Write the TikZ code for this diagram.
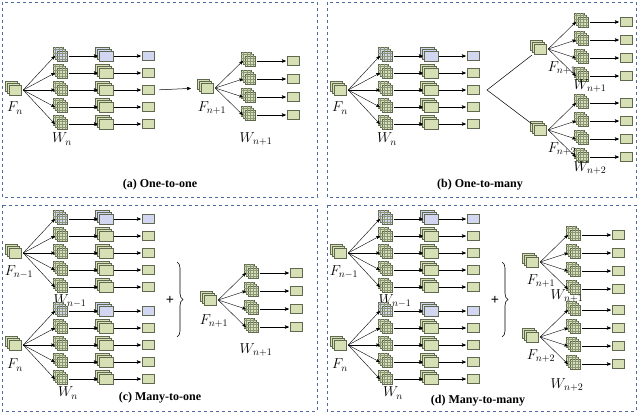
\documentclass[tikz,border=0pt]{standalone}
\usepackage{fontspec}
\setmainfont{Liberation Serif}
\usetikzlibrary{arrows,positioning,calc,decorations.pathreplacing}
\definecolor{greenf}{RGB}{214,224,180}
\definecolor{bluef}{RGB}{210,214,240}
\definecolor{edgec}{RGB}{95,105,80}
\definecolor{gridc}{RGB}{140,150,120}
\definecolor{framec}{RGB}{80,105,160}
\tikzset{
    elem/.style={inner sep=0pt, minimum width=14pt, minimum height=12pt},
    fnode/.style={elem, minimum width=16pt},
    flow/.style={->, line width=0.5pt},
    fan/.style={->, line width=0.4pt},
    frame/.style={draw=framec, dashed, line width=0.9pt},
    lbl/.style={font=\Large, inner sep=0pt},
    pics/fmap/.style={code={
        \foreach \d in {4,2,0}
            \filldraw[fill=#1, draw=edgec, line width=0.4pt] (-6-\d,-5-\d) rectangle (6-\d,5-\d);
    }},
    pics/kern/.style={code={
        \foreach \d in {4,2,0} {
            \filldraw[fill=#1, draw=edgec, line width=0.3pt] (-5-\d,-5-\d) rectangle (5-\d,5-\d);
            \draw[gridc, line width=0.2pt] (-5-\d,-5-\d) grid[step=3.33pt] (5-\d,5-\d);
        }
    }},
    pics/cube/.style={code={
        \foreach \d in {4,2,0}
            \filldraw[fill=#1, draw=edgec, line width=0.4pt] (-7-\d,-5-\d) rectangle (7-\d,5-\d);
    }},
    pics/obox/.style={code={
        \filldraw[fill=#1, draw=edgec, line width=0.4pt] (-6,-4.5) rectangle (6,4.5);
    }},
}
% left group: feature map, five kernels, five cubes, five outputs
\newcommand\lgrp[3]{%
    \node[fnode] (#1f) at (#2,#3) {};
    \pic at (#1f) {fmap=greenf};
    \foreach \r/\dy/\c in {1/-34/bluef,2/-17/greenf,3/0/greenf,4/17/greenf,5/34/greenf} {
        \node[elem] (#1k\r) at (#2+47,#3+\dy) {};
        \node[elem, minimum width=16pt] (#1c\r) at (#2+91,#3+\dy) {};
        \node[elem] (#1b\r) at (#2+133,#3+\dy) {};
        \pic at (#1k\r) {kern=\c};
        \pic at (#1c\r) {cube=\c};
        \pic at (#1b\r) {obox=\c};
        \draw[fan] (#1f.east) -- (#1k\r.west);
        \draw[flow] (#1k\r.east) -- (#1c\r.west);
        \draw[flow] (#1c\r.east) -- (#1b\r.west);
    }%
}
% right group: feature map, four kernels, four outputs
\newcommand\rgrp[3]{%
    \node[fnode] (#1f) at (#2,#3) {};
    \pic at (#1f) {fmap=greenf};
    \foreach \r/\dy in {1/-27,2/-9,3/9,4/27} {
        \node[elem] (#1k\r) at (#2+43,#3+\dy) {};
        \node[elem] (#1b\r) at (#2+86,#3+\dy) {};
        \pic at (#1k\r) {kern=greenf};
        \pic at (#1b\r) {obox=greenf};
        \draw[fan] (#1f.east) -- (#1k\r.west);
        \draw[flow] (#1k\r.east) -- (#1b\r.west);
    }%
}
\begin{document}
\begin{tikzpicture}[x=1pt, y=-1pt, >=stealth']
    \useasboundingbox (0,0) rectangle (640,413);
    % frames
    \draw[frame] (2,2) rectangle (317,197);
    \draw[frame] (327,2) rectangle (636,197);
    \draw[frame] (2,205) rectangle (317,411);
    \draw[frame] (327,205) rectangle (636,411);

    % (a)
    \lgrp{a}{15}{90}
    \node[lbl] at (15,108) {$F_n$};
    \node[lbl] at (62,139) {$W_n$};
    \rgrp{an}{207}{88}
    \draw[flow, shorten <=4pt, shorten >=8pt] (ab3.east) -- (anf.west);
    \node[lbl] at (212,108) {$F_{n+1}$};
    \node[lbl] at (256,139) {$W_{n+1}$};
    \node[lbl, font=\large] at (160,185) {\textbf{(a) One-to-one}};

    % (b)
    \lgrp{b}{340}{90}
    \node[lbl] at (340,108) {$F_n$};
    \node[lbl] at (387,139) {$W_n$};
    \coordinate (bsplit) at (487,90);
    \rgrp{bn}{540}{49}
    \rgrp{bm}{540}{130}
    \draw[line width=0.5pt] (bnf.south west) -- (bsplit) -- (bmf.north west);
    \node[lbl] at (562,68) {$F_{n+1}$};
    \node[lbl] at (590,86) {$W_{n+1}$};
    \node[lbl] at (562,149) {$F_{n+2}$};
    \node[lbl] at (590,168) {$W_{n+2}$};
    \node[lbl, font=\large] at (480,185) {\textbf{(b) One-to-many}};

    % (c)
    \lgrp{c}{15}{253}
    \node[lbl] at (19,272) {$F_{n-1}$};
    \node[lbl] at (70,301) {$W_{n-1}$};
    \lgrp{cm}{15}{345}
    \node[lbl] at (15,365) {$F_n$};
    \node[lbl] at (68,393) {$W_n$};
    \node (cplus) at (170,300) {\Large\textbf{+}};
    \draw[decorate, decoration={brace, amplitude=6pt}, line width=0.6pt] (177,262) -- (177,337);
    \rgrp{cn}{210}{300}
    \node[lbl] at (214,321) {$F_{n+1}$};
    \node[lbl] at (256,350) {$W_{n+1}$};
    \node[lbl, font=\large] at (160,398) {\textbf{(c) Many-to-one}};

    % (d)
    \lgrp{d}{340}{253}
    \node[lbl] at (344,272) {$F_{n-1}$};
    \node[lbl] at (395,301) {$W_{n-1}$};
    \lgrp{dm}{340}{345}
    \node[lbl] at (340,365) {$F_n$};
    \node[lbl] at (393,393) {$W_n$};
    \node (dplus) at (495,300) {\Large\textbf{+}};
    \draw[decorate, decoration={brace, amplitude=6pt}, line width=0.6pt] (502,262) -- (502,337);
    \rgrp{dn}{532}{262}
    \node[lbl] at (541,281) {$F_{n+1}$};
    \node[lbl] at (567,296) {$W_{n+1}$};
    \rgrp{do}{532}{337}
    \node[lbl] at (541,356) {$F_{n+2}$};
    \node[lbl] at (567,385) {$W_{n+2}$};
    \node[lbl, font=\large] at (478,401) {\textbf{(d) Many-to-many}};
\end{tikzpicture}
\end{document}
